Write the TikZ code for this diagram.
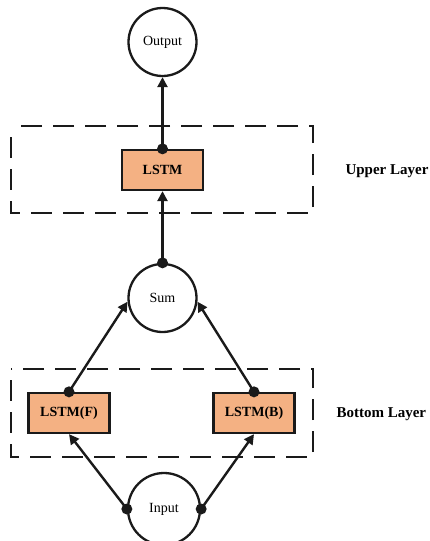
\documentclass[tikz,border=0pt]{standalone}
\usepackage{fontspec}
\setmainfont{Liberation Serif}
\usetikzlibrary{arrows.meta}

\definecolor{cellfill}{HTML}{F4B183}
\definecolor{inkgray}{HTML}{1A1A1A}

\tikzset{
  cellbox/.style={draw=inkgray, line width=2.3pt, fill=cellfill, minimum width=81pt,
    minimum height=40pt, inner sep=0pt, font=\fontsize{14}{16}\selectfont\bfseries},
  opnode/.style={draw=inkgray, line width=2.3pt, circle, minimum size=68pt, inner sep=0pt,
    fill=white, font=\fontsize{14}{16}\selectfont},
  layerframe/.style={draw=inkgray, line width=2.8pt, dash pattern=on 21pt off 11pt, dash phase=-11pt},
  flow/.style={draw=inkgray, line width=2.4pt, -{Triangle[length=10pt,width=10pt]}},
  dotmark/.style={fill=inkgray},
  layertag/.style={font=\fontsize{15}{17}\selectfont\bfseries, anchor=west},
}

\begin{document}
\begin{tikzpicture}[x=1pt, y=-1pt]
  \useasboundingbox (0,0) rectangle (430,541);
  \clip (0,0) rectangle (430,541);

  % layer frames
  \draw[layerframe] (11,126) rectangle (313,213);
  \draw[layerframe] (11,369) rectangle (313,457);

  % layer names
  \node[layertag] (uppertag) at (342,171) {Upper Layer};
  \node[layertag] (bottomtag) at (333,414) {Bottom Layer};

  % cells and operations
  \node[opnode] (out) at (162.5,42) {Output};
  \node[cellbox] (lstm) at (162.5,170) {LSTM};
  \node[opnode] (sum) at (162.5,298) {Sum};
  \node[cellbox] (fwd) at (69,413) {LSTM(F)};
  \node[cellbox] (bwd) at (254,413) {LSTM(B)};
  \node[opnode, minimum size=72pt] (inp) at (164,509) {Input};

  % connectors
  \draw[flow] (lstm.north) -- (out.south);
  \draw[flow] (sum.north) -- (lstm.south);
  \draw[flow] (fwd.north) -- (sum.186);
  \draw[flow] (bwd.north) -- (sum.-6);
  \draw[flow] (inp.west) -- (fwd.south);
  \draw[flow] (inp.east) -- (bwd.south);

  % junction dots
  \foreach \p in {lstm.north, sum.north, fwd.north, bwd.north, inp.west, inp.east}
    \fill[dotmark] (\p) circle (5.5pt);
\end{tikzpicture}
\end{document}
